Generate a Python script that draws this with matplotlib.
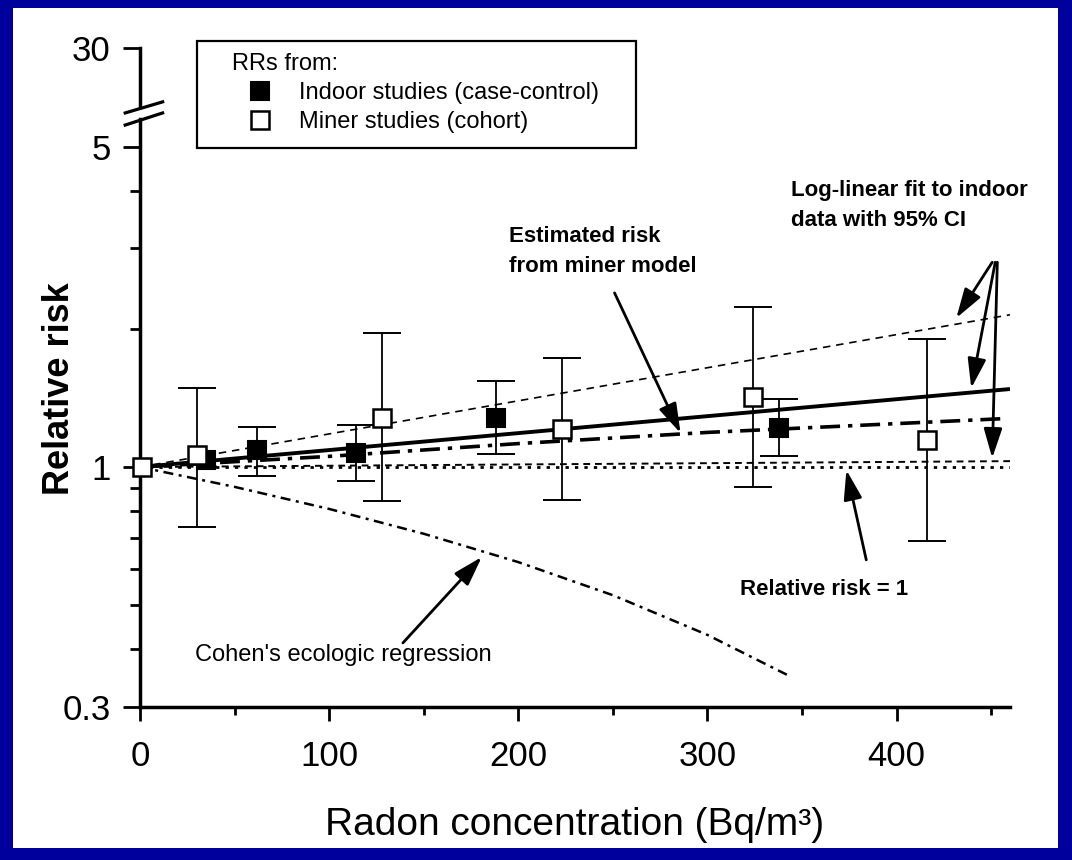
import numpy as np
import matplotlib
matplotlib.use("Agg")
import matplotlib.pyplot as plt
from matplotlib.patches import Rectangle

plt.rcParams['font.family'] = ['Liberation Sans', 'DejaVu Sans']

# ---- data ----
# miner studies (cohort), open squares
miner_x = [1, 30, 128, 223, 324, 416]
miner_rr = [1.00, 1.062, 1.279, 1.213, 1.422, 1.145]
miner_lo = [1.00, 0.741, 0.843, 0.847, 0.906, 0.688]
miner_hi = [1.00, 1.487, 1.962, 1.733, 2.236, 1.902]

# indoor studies (case-control), filled squares
indoor_x = [35, 62, 114, 188, 338]
indoor_rr = [1.036, 1.089, 1.075, 1.277, 1.218]
indoor_lo = [1.036, 0.956, 0.934, 1.067, 1.058]
indoor_hi = [1.036, 1.223, 1.235, 1.543, 1.406]

# log-linear fit to indoor data with 95% CI
fit_x = [0, 460]
fit_rr = [1.0, 1.48]
fit_hi = [1.0, 2.15]
fit_lo = [1.0, 1.03]

# estimated risk from miner model
model_x = [0, 100, 200, 300, 456]
model_rr = [1.0, 1.055, 1.125, 1.19, 1.275]

# Cohen's ecologic regression
cohen_x = [0, 50, 100, 150, 200, 250, 300, 342]
cohen_rr = [1.0, 0.905, 0.81, 0.715, 0.62, 0.525, 0.43, 0.352]

# reference line
ref_x = [0, 460]
ref_rr = [1.0, 1.0]

# y axis (log, broken above 5; the "30" tick sits just above the break)
y_major = [0.3, 1, 5, 8.22]
y_labels = ['0.3', '1', '5', '30']
y_minor = [0.4, 0.5, 0.6, 0.7, 0.8, 0.9, 2, 3, 4]

BLUE = '#00009c'

fig = plt.figure(figsize=(10.72, 8.6), dpi=100, facecolor=BLUE)
fig.patches.append(Rectangle((13 / 1072, 12 / 860), 1 - 27 / 1072, 1 - 20 / 860,
                             transform=fig.transFigure, facecolor='white',
                             edgecolor='none', zorder=-10))

ax = fig.add_axes([140 / 1072, 1 - 706.5 / 860, 870 / 1072, 658.5 / 860])
ax.set_facecolor('none')
ax.set_yscale('log')
ax.set_xlim(0, 460)
ax.set_ylim(0.3, 8.22)

# lines
ax.plot(fit_x, fit_rr, color='black', lw=2.8, solid_capstyle='butt', zorder=3)
ax.plot(fit_x, fit_hi, color='black', lw=1.2, dashes=(4.5, 3.5), zorder=3)
ax.plot(fit_x, fit_lo, color='black', lw=1.4, dashes=(3.5, 2.5), zorder=3)
ax.plot(ref_x, ref_rr, color='black', lw=2.0, dashes=(1.2, 2.2), zorder=3)
ax.plot(model_x, model_rr, color='black', lw=2.6, dashes=(5.5, 2.2, 1.2, 2.2), zorder=3)
ax.plot(cohen_x, cohen_rr, color='black', lw=1.8, dashes=(4, 2.2, 1.2, 2.2), zorder=3)

# error bars
mx = np.array(miner_x)
mr = np.array(miner_rr)
ax.errorbar(mx[1:], mr[1:], yerr=[mr[1:] - np.array(miner_lo)[1:], np.array(miner_hi)[1:] - mr[1:]],
            fmt='none', ecolor='black', elinewidth=1.3, capsize=13.5, capthick=1.4, zorder=4)
ix = np.array(indoor_x)
ir = np.array(indoor_rr)
ax.errorbar(ix[1:], ir[1:], yerr=[ir[1:] - np.array(indoor_lo)[1:], np.array(indoor_hi)[1:] - ir[1:]],
            fmt='none', ecolor='black', elinewidth=1.3, capsize=13.5, capthick=1.4, zorder=4)

# markers
ax.plot(indoor_x, indoor_rr, 's', ms=13, mfc='black', mec='black', mew=1.5,
        ls='none', zorder=5, label='Indoor studies (case-control)')
ax.plot(miner_x, miner_rr, 's', ms=12.5, mfc='white', mec='black', mew=1.8,
        ls='none', zorder=6, label='Miner studies (cohort)', clip_on=False)

# axes styling
for s in ['top', 'right']:
    ax.spines[s].set_visible(False)
for s in ['left', 'bottom']:
    ax.spines[s].set_linewidth(2.5)
ax.spines['left'].set_bounds(0.3, 5.74)

ytr = ax.get_yaxis_transform()
ax.plot([0, 0], [6.10, 8.22], color='black', lw=2.5, transform=ytr, clip_on=False)
ax.plot([-0.017, 0.026], [5.58, 5.93], color='black', lw=2.3, transform=ytr, clip_on=False)
ax.plot([-0.017, 0.026], [5.93, 6.27], color='black', lw=2.3, transform=ytr, clip_on=False)

ax.set_yticks(y_major)
ax.set_yticklabels(y_labels)
ax.set_yticks(y_minor, minor=True)
ax.yaxis.set_minor_formatter(matplotlib.ticker.NullFormatter())
ax.set_xticks([0, 100, 200, 300, 400])
ax.set_xticks([50, 150, 250, 350, 450], minor=True)

ax.tick_params(axis='both', which='major', labelsize=25, width=2, color='black')
ax.tick_params(axis='y', which='major', length=12, pad=9)
ax.tick_params(axis='y', which='minor', length=7, width=2)
ax.tick_params(axis='x', which='major', length=10, pad=14)
ax.tick_params(axis='x', which='minor', length=6, width=2)

ax.set_xlabel('Radon concentration (Bq/m³)', fontsize=28)
ax.xaxis.set_label_coords(0.4994, -0.152)
ax.set_ylabel('Relative risk', fontsize=26, fontweight='bold')
ax.yaxis.set_label_coords(-0.072, 0.482)

# legend
ax.add_patch(Rectangle((0.0655, 0.848), 0.5046, 0.1625, transform=ax.transAxes,
                       facecolor='white', edgecolor='black', lw=1.6, clip_on=False, zorder=7))
leg = ax.legend(title='RRs from:', loc='upper left', bbox_to_anchor=(0.1057, 0.9924),
                frameon=False, borderpad=0, borderaxespad=0, fontsize=17,
                title_fontsize=17, alignment='left', handlelength=2.37,
                handletextpad=0.47, labelspacing=0.3, markerscale=1.0)
leg.set_zorder(8)

# annotations
ax.text(344, 3.72, 'Log-linear fit to indoor\ndata with 95% CI', fontsize=16,
        fontweight='bold', va='center', ha='left', linespacing=1.55)
ax.text(195, 2.956, 'Estimated risk\nfrom miner model', fontsize=16,
        fontweight='bold', va='center', ha='left', linespacing=1.55)
ax.text(317, 0.539, 'Relative risk = 1', fontsize=16, fontweight='bold',
        va='center', ha='left')
ax.text(29, 0.389, "Cohen's ecologic regression", fontsize=17,
        va='center', ha='left')

arrow = dict(arrowstyle='-|>,head_length=0.9,head_width=0.28', lw=2,
             color='black', shrinkA=0, shrinkB=0, mutation_scale=20)
for sx, tx, ty in [(450.6, 431.6, 2.115), (452.2, 439.5, 1.487), (453.3, 450.6, 1.046)]:
    ax.annotate('', xy=(tx, ty), xytext=(sx, 2.80), arrowprops=arrow)
ax.annotate('', xy=(285.8, 1.186), xytext=(250.9, 2.40), arrowprops=arrow)
ax.annotate('', xy=(373.5, 0.985), xytext=(384, 0.627), arrowprops=arrow)
ax.annotate('', xy=(180.7, 0.636), xytext=(139, 0.413), arrowprops=arrow)

fig.savefig('out.png', dpi=100, facecolor=BLUE)
